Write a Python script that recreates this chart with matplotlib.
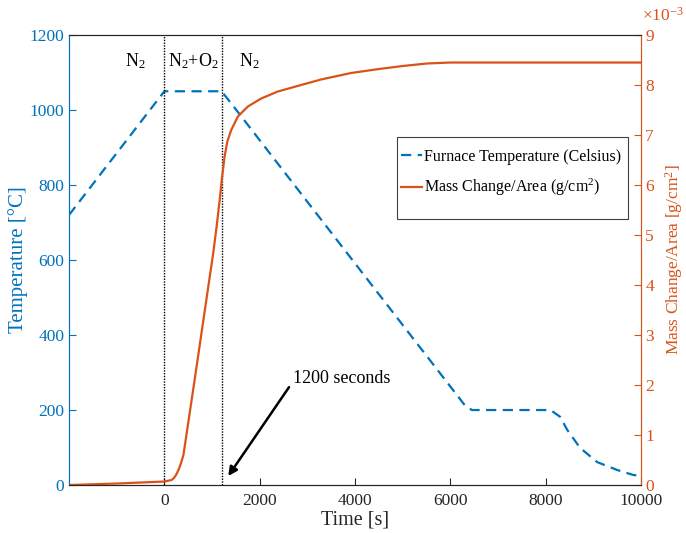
import matplotlib
matplotlib.use("Agg")
import matplotlib.pyplot as plt
from matplotlib.ticker import FuncFormatter, FixedLocator
from matplotlib.patches import Rectangle

plt.rcParams['font.family'] = ['Liberation Serif', 'DejaVu Serif']
plt.rcParams['mathtext.fontset'] = 'custom'
plt.rcParams['mathtext.rm'] = 'Liberation Serif'
plt.rcParams['mathtext.it'] = 'Liberation Serif:italic'

BLUE = '#0072BD'
ORANGE = '#D95319'

# Furnace temperature (Celsius)
time_temp = [-2000, 0, 1200, 1400, 6300, 6450, 8100, 8300, 8450, 8720, 9080, 9500, 9830, 10000]
temp = [720, 1050, 1050, 1018, 213, 200, 200, 182, 147, 99, 61, 40, 27, 24]

# Mass change per area (g/cm^2)
time_mass = [-2000, -1000, 0, 150, 200, 250, 300, 350, 400, 470, 628, 837, 1025, 1100,
             1160, 1210, 1260, 1320, 1402, 1542, 1751, 2029, 2379, 2866, 3284, 3912, 4500,
             5000, 5500, 6000, 6500, 10000]
mass = [0.0, 0.03e-3, 0.07e-3, 0.10e-3, 0.14e-3, 0.21e-3, 0.31e-3, 0.44e-3, 0.60e-3,
        1.05e-3, 2.06e-3, 3.42e-3, 4.64e-3, 5.20e-3, 5.70e-3, 6.15e-3, 6.55e-3, 6.87e-3,
        7.10e-3, 7.37e-3, 7.57e-3, 7.73e-3, 7.87e-3, 8.00e-3, 8.11e-3, 8.24e-3, 8.32e-3,
        8.38e-3, 8.43e-3, 8.45e-3, 8.45e-3, 8.45e-3]

x_ticks = [0, 2000, 4000, 6000, 8000, 10000]
y_ticks = [0, 200, 400, 600, 800, 1000, 1200]
y2_ticks = [i * 1e-3 for i in range(10)]
gas_labels = ['N$_2$', 'N$_2$+O$_2$', 'N$_2$']
gas_x = [-600, 600, 1780]
switch_times = [0, 1200]

fig = plt.figure(figsize=(6.86, 5.33), dpi=100)
ax = fig.add_axes([0.1006, 0.09, 0.834, 0.8443])
ax2 = ax.twinx()

l1, = ax.plot(time_temp, temp, color=BLUE, lw=1.6, ls=(0, (4.6, 2.9)),
              label='Furnace Temperature (Celsius)')
l2, = ax2.plot(time_mass, mass, color=ORANGE, lw=1.6, label='Mass Change/Area (g/cm$^2$)')

ax.set_xlim(-2000, 10000)
ax.set_ylim(0, 1200)
ax2.set_ylim(0, 9e-3)

for t in switch_times:
    ax.axvline(t, color='black', ls=(0, (1, 1)), lw=1.0)

for gx, gl in zip(gas_x, gas_labels):
    ax.text(gx, 1130, gl, ha='center', va='center', fontsize=13)

ax.text(2700, 285, '1200 seconds', fontsize=13, ha='left', va='center')
ax.annotate('', xy=(1340, 24), xytext=(2615, 261),
            arrowprops=dict(arrowstyle='-|>', color='black', lw=1.8,
                            shrinkA=0, shrinkB=0, mutation_scale=13))

ax.xaxis.set_major_locator(FixedLocator(x_ticks))
ax.yaxis.set_major_locator(FixedLocator(y_ticks))
ax2.yaxis.set_major_locator(FixedLocator(y2_ticks))
ax2.yaxis.set_major_formatter(FuncFormatter(lambda v, p: f'{v*1e3:.0f}'))

ax.tick_params(axis='x', direction='in', length=5, labelsize=12.5, colors='#262626', pad=6)
ax.tick_params(axis='y', direction='in', length=5, labelsize=12.5, colors=BLUE)
ax2.tick_params(axis='y', direction='in', length=5, labelsize=12.5, colors=ORANGE, pad=3)

for a in (ax, ax2):
    a.spines['top'].set_color('#262626')
    a.spines['bottom'].set_color('#262626')
    a.spines['left'].set_color(BLUE)
    a.spines['right'].set_color(ORANGE)
    for s in a.spines.values():
        s.set_linewidth(0.8)

ax.set_xlabel('Time [s]', fontsize=14.5, color='#262626', labelpad=1)
ax.set_ylabel('Temperature [°C]', fontsize=15, color=BLUE, labelpad=1)
ax2.set_ylabel('Mass Change/Area [g/cm$^2$]', fontsize=12.5, color=ORANGE, labelpad=6.5)
ax2.text(1.002, 1.022, r'$\times10^{-3}$', transform=ax2.transAxes, fontsize=12.5,
         color=ORANGE, ha='left', va='bottom')

# legend frame and entries
ax.add_patch(Rectangle((0.5734, 0.5911), 0.4039, 0.1822, transform=ax.transAxes,
                       facecolor='white', edgecolor='#404040', lw=0.8, zorder=4))
leg = ax.legend(handles=[l1, l2], loc='center left', bbox_to_anchor=(0.580, 0.692),
                fontsize=11.5, frameon=False, handlelength=1.3, handletextpad=0.15,
                labelspacing=0.75, borderpad=0, borderaxespad=0)
leg.set_zorder(5)

fig.savefig('out.png', dpi=100)
